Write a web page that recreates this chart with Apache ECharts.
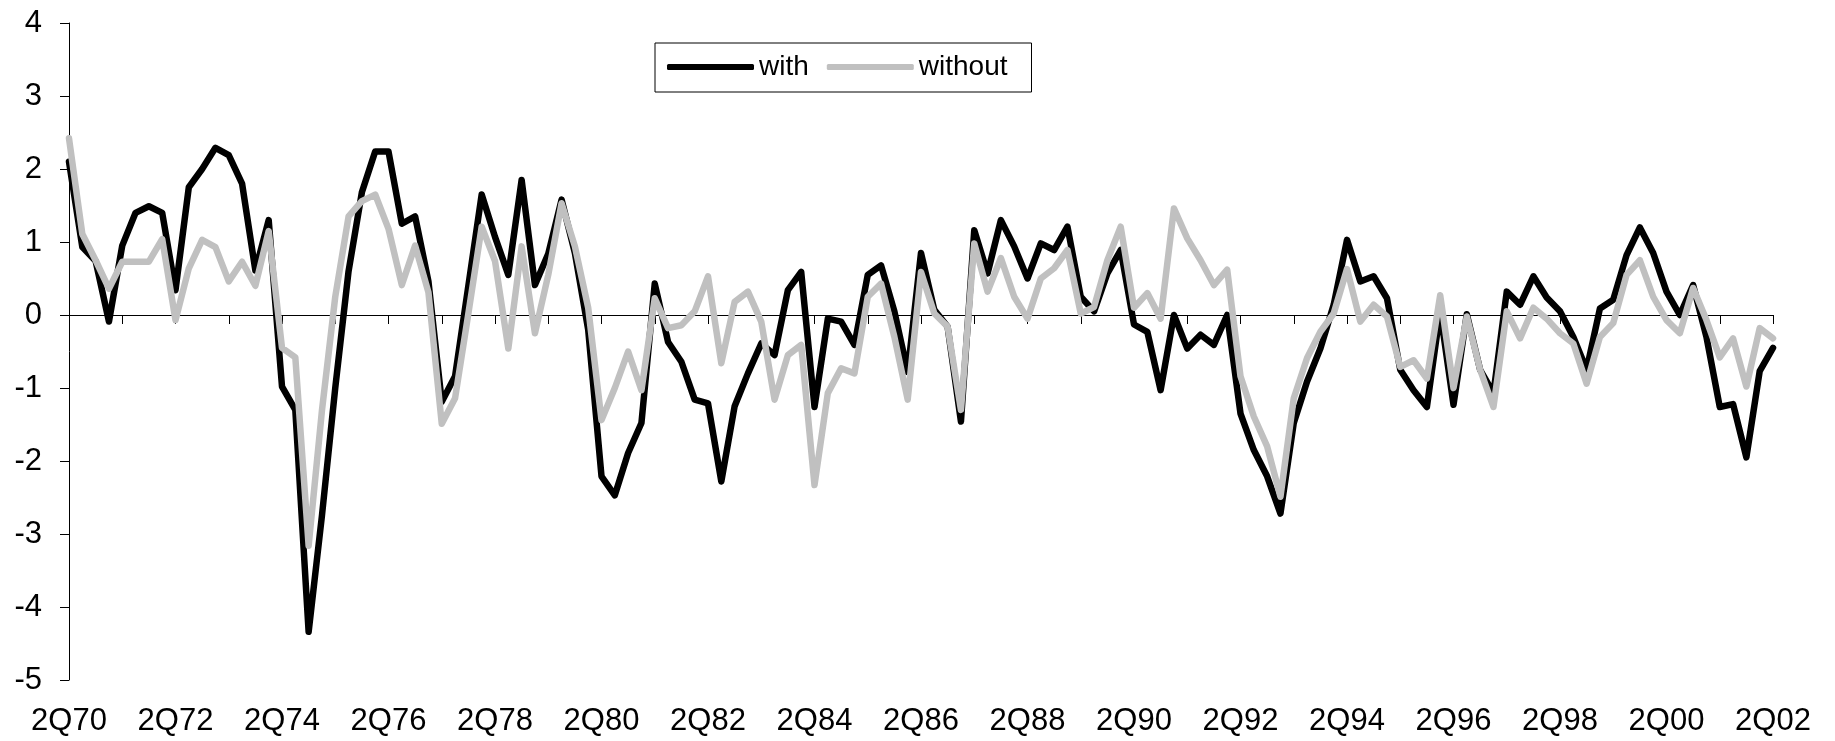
<!DOCTYPE html>
<html>
<head>
<meta charset="utf-8">
<script src="https://cdn.jsdelivr.net/npm/echarts@6/dist/echarts.min.js"></script>
<style>
html,body{margin:0;padding:0;background:#ffffff;}
#chart{width:1835px;height:741px;}
</style>
</head>
<body>
<div id="chart"></div>
<script>
// Quarterly categories from 2Q70 to 2Q02
const firstYear = 1970, firstQuarter = 2, lastYear = 2002, lastQuarter = 2;
const categories = [];
for (let y = firstYear; y <= lastYear; y++) {
  for (let q = 1; q <= 4; q++) {
    if (y === firstYear && q < firstQuarter) continue;
    if (y === lastYear && q > lastQuarter) continue;
    categories.push(q + 'Q' + String(y % 100).padStart(2, '0'));
  }
}

const seriesNames = ['with', 'without'];

const withValues = [
  2.10, 0.93, 0.74, -0.09, 0.95, 1.40, 1.49, 1.40,
  0.34, 1.75, 2.00, 2.29, 2.19, 1.80, 0.61, 1.30,
  -0.98, -1.30, -4.34, -2.75, -1.00, 0.60, 1.68, 2.24,
  2.24, 1.25, 1.35, 0.46, -1.19, -0.84, 0.40, 1.65,
  1.07, 0.55, 1.85, 0.41, 0.84, 1.58, 0.85, -0.20,
  -2.21, -2.47, -1.89, -1.48, 0.43, -0.37, -0.64, -1.16,
  -1.21, -2.28, -1.25, -0.80, -0.39, -0.55, 0.34, 0.59,
  -1.26, -0.05, -0.09, -0.41, 0.55, 0.68, 0.05, -0.78,
  0.85, 0.07, -0.16, -1.46, 1.16, 0.57, 1.30, 0.94,
  0.50, 0.98, 0.89, 1.21, 0.25, 0.05, 0.57, 0.89,
  -0.13, -0.23, -1.03, 0.00, -0.46, -0.27, -0.41, 0.00,
  -1.35, -1.85, -2.21, -2.72, -1.48, -0.91, -0.46, 0.14,
  1.03, 0.46, 0.53, 0.23, -0.75, -1.03, -1.26, 0.05,
  -1.23, 0.01, -0.75, -1.07, 0.32, 0.14, 0.53, 0.24,
  0.05, -0.30, -0.75, 0.09, 0.21, 0.82, 1.20, 0.85,
  0.32, 0.00, 0.41, -0.30, -1.26, -1.22, -1.95, -0.77,
  -0.45
];

const withoutValues = [
  2.42, 1.11, 0.75, 0.36, 0.73, 0.73, 0.73, 1.04,
  -0.07, 0.64, 1.03, 0.93, 0.46, 0.73, 0.40, 1.15,
  -0.45, -0.58, -3.16, -1.31, 0.25, 1.35, 1.56, 1.65,
  1.18, 0.41, 0.95, 0.31, -1.49, -1.14, 0.02, 1.21,
  0.74, -0.46, 0.94, -0.25, 0.55, 1.53, 0.94, 0.10,
  -1.44, -1.00, -0.50, -1.03, 0.23, -0.18, -0.14, 0.05,
  0.53, -0.66, 0.18, 0.32, -0.09, -1.16, -0.55, -0.41,
  -2.33, -1.07, -0.73, -0.80, 0.25, 0.43, -0.30, -1.16,
  0.59, 0.02, -0.16, -1.30, 0.98, 0.32, 0.78, 0.25,
  -0.05, 0.50, 0.64, 0.89, 0.02, 0.11, 0.75, 1.21,
  0.10, 0.30, -0.05, 1.46, 1.05, 0.75, 0.41, 0.62,
  -0.84, -1.39, -1.80, -2.49, -1.14, -0.59, -0.23, 0.02,
  0.63, -0.09, 0.14, -0.02, -0.71, -0.62, -0.87, 0.27,
  -1.00, -0.02, -0.75, -1.26, 0.05, -0.32, 0.10, -0.05,
  -0.25, -0.39, -0.94, -0.30, -0.11, 0.55, 0.75, 0.25,
  -0.07, -0.25, 0.37, -0.07, -0.58, -0.32, -0.98, -0.18,
  -0.32
];

const yMin = -5, yMax = 4, yStep = 1;
const FONT = '"Liberation Sans", Arial, sans-serif';

const chart = echarts.init(document.getElementById('chart'), null, {renderer: 'canvas'});
chart.setOption({
  animation: false,
  backgroundColor: '#ffffff',
  grid: {left: 69, right: 62, top: 23, bottom: 61, containLabel: false},
  legend: {
    data: seriesNames,
    left: 655, top: 43,
    orient: 'horizontal',
    icon: 'roundRect',
    itemWidth: 87, itemHeight: 6, itemGap: 18,
    padding: [10, 24, 11, 12],
    borderColor: '#000000', borderWidth: 1,
    textStyle: {fontFamily: FONT, fontSize: 28, color: '#000000'}
  },
  xAxis: [
    {
      type: 'category', data: categories, boundaryGap: false,
      axisLine: {show: true, onZero: true, lineStyle: {color: '#000000', width: 1}},
      axisTick: {show: true, interval: 3, length: 9, inside: false, lineStyle: {color: '#000000', width: 1}},
      axisLabel: {show: false},
      splitLine: {show: false}
    },
    {
      type: 'category', data: categories, boundaryGap: false, position: 'bottom',
      axisLine: {show: false, onZero: false},
      axisTick: {show: false},
      axisLabel: {show: true, interval: 7, margin: 26, fontFamily: FONT, fontSize: 31, color: '#000000'},
      splitLine: {show: false}
    }
  ],
  yAxis: {
    type: 'value', min: yMin, max: yMax, interval: yStep,
    axisLine: {show: true, onZero: false, lineStyle: {color: '#000000', width: 1}},
    axisTick: {show: true, length: 9, inside: false, lineStyle: {color: '#000000', width: 1}},
    axisLabel: {margin: 27, fontFamily: FONT, fontSize: 31, color: '#000000'},
    splitLine: {show: false}
  },
  series: [
    {
      name: seriesNames[0], type: 'line', data: withValues, xAxisIndex: 0,
      symbol: 'none', color: '#000000',
      lineStyle: {color: '#000000', width: 6.5, cap: 'round', join: 'round'}
    },
    {
      name: seriesNames[1], type: 'line', data: withoutValues, xAxisIndex: 0,
      symbol: 'none', color: '#c0c0c0',
      lineStyle: {color: '#c0c0c0', width: 6.5, cap: 'round', join: 'round'}
    }
  ]
});
</script>
</body>
</html>
